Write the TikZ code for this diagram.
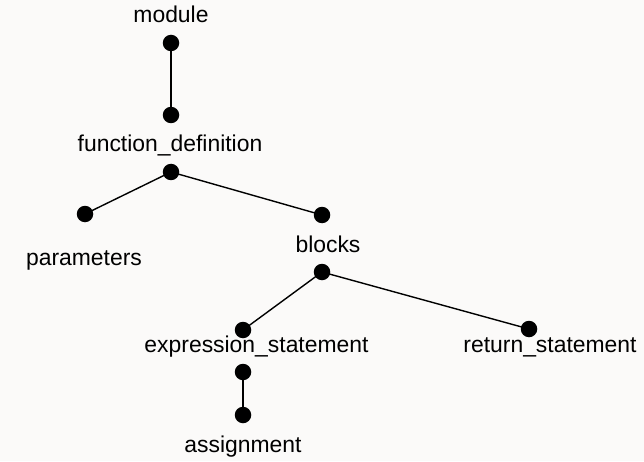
\documentclass[tikz,border=0pt]{standalone}
\usepackage{fontspec}
\setmainfont{Liberation Sans}
\definecolor{bg}{HTML}{FBFAF9}
\begin{document}
\begin{tikzpicture}[x=1pt,y=1pt,
  dot/.style={circle,fill=black,inner sep=0pt,minimum size=16.5pt},
  lbl/.style={anchor=base,inner sep=0pt,font=\fontsize{22.9}{27}\selectfont},
  edge/.style={line width=1.4pt}]
\fill[bg] (0,0) rectangle (644,461);
\useasboundingbox (0,0) rectangle (644,461);
% labels
\node[lbl] (tmod) at (171,438) {module};
\node[lbl] (tfd) at (170,309) {function\_definition};
\node[lbl] (tpar) at (84,196) {parameters};
\node[lbl] (tbl) at (328,209) {blocks};
\node[lbl] (tex) at (256.5,109) {expression\_statement};
\node[lbl] (tret) at (550,109) {return\_statement};
\node[lbl] (tas) at (243,9) {assignment};
% dots
\node[dot] (mod) at (171,418) {};
\node[dot] (fdt) at (171,346) {};
\node[dot] (fdb) at (171,289) {};
\node[dot] (par) at (85,247) {};
\node[dot] (blt) at (322,246) {};
\node[dot] (blb) at (322,189) {};
\node[dot] (ext) at (243,131) {};
\node[dot] (exb) at (243,89) {};
\node[dot] (ret) at (529,132) {};
\node[dot] (as) at (243,46) {};
% edges
\draw[edge] (mod.center) -- (fdt.center);
\draw[edge] (fdb.center) -- (par.center);
\draw[edge] (fdb.center) -- (blt.center);
\draw[edge] (blb.center) -- (ext.center);
\draw[edge] (blb.center) -- (ret.center);
\draw[edge] (exb.center) -- (as.center);
\end{tikzpicture}
\end{document}
